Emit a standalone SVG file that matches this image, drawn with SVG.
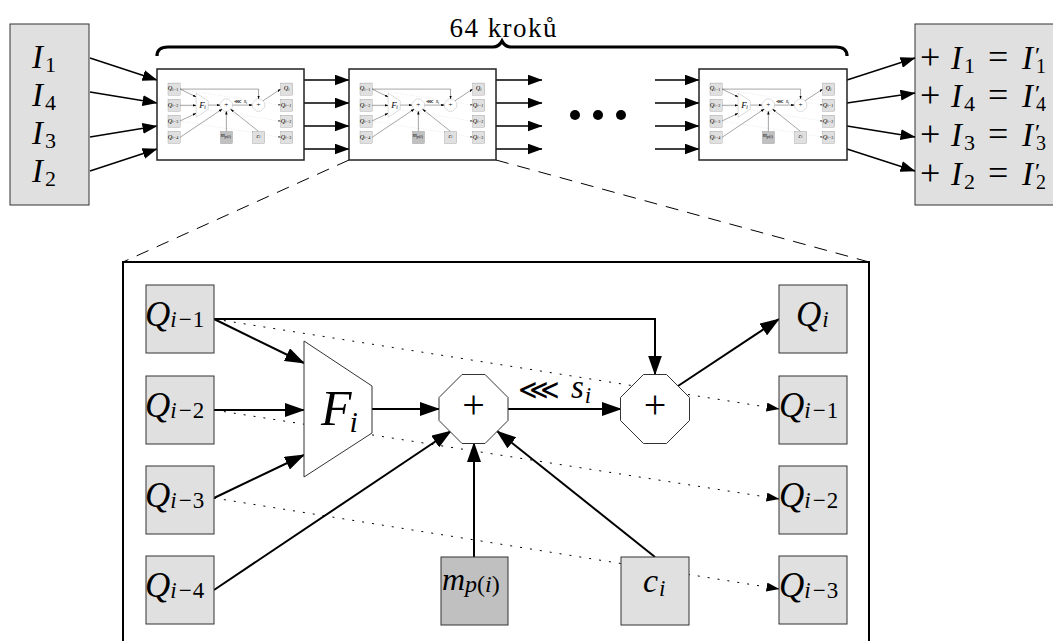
<svg xmlns="http://www.w3.org/2000/svg" width="1053" height="641" viewBox="0 0 1053 641">
<style>
.box{fill:#e0e0e0;stroke:#333;stroke-width:1}
.dark{fill:#c0c0c0}
.wh{fill:#fff;stroke:#333;stroke-width:1}
.blk{fill:#fff;stroke:#222;stroke-width:1.5}
.e{fill:none;stroke:#000;stroke-width:2}
.d{fill:none;stroke:#000;stroke-width:1;stroke-dasharray:2 8}
.te{fill:none;stroke:#000;stroke-width:1.4}
.dash{fill:none;stroke:#000;stroke-width:1;stroke-dasharray:13 9}
.t{font-family:"Liberation Serif","DejaVu Serif",serif;fill:#000}
.it{font-style:italic}
</style>
<defs>
<marker id="ah" markerUnits="userSpaceOnUse" markerWidth="20" markerHeight="14" refX="19" refY="7" orient="auto"><path d="M0,0 L20,7 L0,14 z" fill="#000"/></marker>
<marker id="ahs" markerUnits="userSpaceOnUse" markerWidth="13" markerHeight="9" refX="12.5" refY="4.5" orient="auto"><path d="M0,0 L13,4.5 L0,9 z" fill="#000"/></marker>
<marker id="aht" markerUnits="userSpaceOnUse" markerWidth="15" markerHeight="11" refX="14.5" refY="5.5" orient="auto"><path d="M0,0 L15,5.5 L0,11 z" fill="#000"/></marker>
</defs>

<!-- input box -->
<g id="inputs">
<rect class="box" x="10" y="24" width="79" height="181"/>
<text class="t" font-size="33" x="32" y="68"><tspan class="it">I</tspan><tspan font-size="22" dx="2" dy="4">1</tspan></text>
<text class="t" font-size="33" x="32" y="106"><tspan class="it">I</tspan><tspan font-size="22" dx="2" dy="4">4</tspan></text>
<text class="t" font-size="33" x="32" y="144"><tspan class="it">I</tspan><tspan font-size="22" dx="2" dy="4">3</tspan></text>
<text class="t" font-size="33" x="32" y="182"><tspan class="it">I</tspan><tspan font-size="22" dx="2" dy="4">2</tspan></text>
</g>

<!-- output box -->
<g id="outputs">
<rect class="box" x="915" y="24" width="150" height="181"/>
<text class="t" y="69"><tspan x="920" font-size="36">+</tspan><tspan x="951" font-size="33" class="it">I</tspan><tspan font-size="22" dx="2" dy="4">1</tspan><tspan x="988" font-size="36" dy="-4">=</tspan><tspan x="1022" font-size="33" class="it">I</tspan><tspan font-size="24" dx="2" dy="-6">′</tspan><tspan x="1036" font-size="20" dy="10">1</tspan></text>
<text class="t" y="107"><tspan x="920" font-size="36">+</tspan><tspan x="951" font-size="33" class="it">I</tspan><tspan font-size="22" dx="2" dy="4">4</tspan><tspan x="988" font-size="36" dy="-4">=</tspan><tspan x="1022" font-size="33" class="it">I</tspan><tspan font-size="24" dx="2" dy="-6">′</tspan><tspan x="1036" font-size="20" dy="10">4</tspan></text>
<text class="t" y="146"><tspan x="920" font-size="36">+</tspan><tspan x="951" font-size="33" class="it">I</tspan><tspan font-size="22" dx="2" dy="4">3</tspan><tspan x="988" font-size="36" dy="-4">=</tspan><tspan x="1022" font-size="33" class="it">I</tspan><tspan font-size="24" dx="2" dy="-6">′</tspan><tspan x="1036" font-size="20" dy="10">3</tspan></text>
<text class="t" y="185"><tspan x="920" font-size="36">+</tspan><tspan x="951" font-size="33" class="it">I</tspan><tspan font-size="22" dx="2" dy="4">2</tspan><tspan x="988" font-size="36" dy="-4">=</tspan><tspan x="1022" font-size="33" class="it">I</tspan><tspan font-size="24" dx="2" dy="-6">′</tspan><tspan x="1036" font-size="20" dy="10">2</tspan></text>
</g>

<!-- brace -->
<g id="brace">
<path d="M157,56 Q157,47 168,47 L493,47 Q499,47 502,41 Q505,47 511,47 L836,47 Q847,47 847,56" fill="none" stroke="#000" stroke-width="3.2"/>
<text class="t" font-size="27" x="503" y="37" text-anchor="middle" textLength="107" lengthAdjust="spacing">64 kroků</text>
</g>

<!-- top connectors -->
<g id="top-connectors">
<line class="te" x1="90" y1="58" x2="157" y2="80" marker-end="url(#aht)"/>
<line class="te" x1="90" y1="92" x2="157" y2="103" marker-end="url(#aht)"/>
<line class="te" x1="90" y1="137" x2="157" y2="126" marker-end="url(#aht)"/>
<line class="te" x1="90" y1="171" x2="157" y2="149" marker-end="url(#aht)"/>
<line class="te" x1="304" y1="80" x2="349" y2="80" marker-end="url(#aht)"/>
<line class="te" x1="304" y1="103" x2="349" y2="103" marker-end="url(#aht)"/>
<line class="te" x1="304" y1="126" x2="349" y2="126" marker-end="url(#aht)"/>
<line class="te" x1="304" y1="149" x2="349" y2="149" marker-end="url(#aht)"/>
<line class="te" x1="496" y1="80" x2="542" y2="80" marker-end="url(#aht)"/>
<line class="te" x1="496" y1="103" x2="542" y2="103" marker-end="url(#aht)"/>
<line class="te" x1="496" y1="126" x2="542" y2="126" marker-end="url(#aht)"/>
<line class="te" x1="496" y1="149" x2="542" y2="149" marker-end="url(#aht)"/>
<line class="te" x1="655" y1="80" x2="699" y2="80" marker-end="url(#aht)"/>
<line class="te" x1="655" y1="103" x2="699" y2="103" marker-end="url(#aht)"/>
<line class="te" x1="655" y1="126" x2="699" y2="126" marker-end="url(#aht)"/>
<line class="te" x1="655" y1="149" x2="699" y2="149" marker-end="url(#aht)"/>
<line class="te" x1="847" y1="80" x2="915" y2="58" marker-end="url(#aht)"/>
<line class="te" x1="847" y1="103" x2="915" y2="93" marker-end="url(#aht)"/>
<line class="te" x1="847" y1="126" x2="915" y2="137" marker-end="url(#aht)"/>
<line class="te" x1="847" y1="149" x2="915" y2="171" marker-end="url(#aht)"/>
<line class="dash" x1="349" y1="160" x2="123" y2="262"/>
<line class="dash" x1="496" y1="160" x2="869" y2="262"/>
</g>

<!-- ellipsis -->
<g id="ellipsis">
<circle cx="575" cy="115" r="5"/>
<circle cx="598" cy="115" r="5"/>
<circle cx="621" cy="115" r="5"/>
</g>

<!-- detail frame -->
<g id="detail-frame">
<rect x="123" y="262" width="746" height="400" fill="#fff" stroke="#000" stroke-width="2"/>
</g>

<!-- detail of one step -->
<g id="detail">
<g id="detail-connectors">
<line class="d" x1="214" y1="319" x2="779" y2="409" marker-end="url(#ahs)"/>
<line class="d" x1="214" y1="410" x2="779" y2="499" marker-end="url(#ahs)"/>
<line class="d" x1="214" y1="498" x2="779" y2="589" marker-end="url(#ahs)"/>
<line class="e" x1="214" y1="319" x2="304" y2="363" marker-end="url(#ah)"/>
<line class="e" x1="214" y1="410" x2="304" y2="410" marker-end="url(#ah)"/>
<line class="e" x1="214" y1="498" x2="304" y2="455" marker-end="url(#ah)"/>
<line class="e" x1="214" y1="590" x2="451" y2="431" marker-end="url(#ah)"/>
<polyline class="e" points="214,319 655,319 655,374.5" marker-end="url(#ah)"/>
<line class="e" x1="372" y1="409" x2="439" y2="409" marker-end="url(#ah)"/>
<line class="e" x1="474" y1="557" x2="474" y2="443" marker-end="url(#ah)"/>
<line class="e" x1="655" y1="557" x2="497" y2="431" marker-end="url(#ah)"/>
<line class="e" x1="508" y1="409" x2="621" y2="409" marker-end="url(#ah)"/>
<line class="e" x1="678" y1="386" x2="779" y2="319" marker-end="url(#ah)"/>
<text class="t" font-family="DejaVu Sans, sans-serif" font-weight="200" font-size="28" x="518" y="399" textLength="42" lengthAdjust="spacingAndGlyphs">⋘</text>
<text class="t" font-size="33" x="571" y="398"><tspan class="it">s</tspan><tspan class="it" font-size="23" dx="1" dy="5">i</tspan></text>
</g>
<g id="q1-in"><rect class="box" x="146" y="285" width="68" height="68"/><text class="t" font-size="35" x="145" y="326"><tspan class="it">Q</tspan><tspan font-size="23" dy="1"><tspan class="it">i</tspan><tspan dx="2">−</tspan><tspan dx="1">1</tspan></tspan></text></g>
<g id="q2-in"><rect class="box" x="146" y="376" width="68" height="68"/><text class="t" font-size="35" x="145" y="417"><tspan class="it">Q</tspan><tspan font-size="23" dy="1"><tspan class="it">i</tspan><tspan dx="2">−</tspan><tspan dx="1">2</tspan></tspan></text></g>
<g id="q3-in"><rect class="box" x="146" y="466" width="68" height="68"/><text class="t" font-size="35" x="145" y="507"><tspan class="it">Q</tspan><tspan font-size="23" dy="1"><tspan class="it">i</tspan><tspan dx="2">−</tspan><tspan dx="1">3</tspan></tspan></text></g>
<g id="q4-in"><rect class="box" x="146" y="556" width="68" height="68"/><text class="t" font-size="35" x="145" y="597"><tspan class="it">Q</tspan><tspan font-size="23" dy="1"><tspan class="it">i</tspan><tspan dx="2">−</tspan><tspan dx="1">4</tspan></tspan></text></g>
<g id="f"><polygon class="wh" points="304,341 372,386 372,433 304,477"/><text class="t" font-size="50" x="321" y="425"><tspan class="it">F</tspan><tspan class="it" font-size="30" dx="-2" dy="7">i</tspan></text></g>
<g id="add1"><polygon class="wh" points="462,374.5 485,374.5 508,397.5 508,420.5 485,443.5 462,443.5 439,420.5 439,397.5"/><text class="t" font-size="40" x="473.5" y="418" text-anchor="middle">+</text></g>
<g id="add2"><polygon class="wh" points="643.5,374.5 666.5,374.5 689.5,397.5 689.5,420.5 666.5,443.5 643.5,443.5 620.5,420.5 620.5,397.5"/><text class="t" font-size="40" x="655" y="418" text-anchor="middle">+</text></g>
<g id="m"><rect class="box dark" x="441" y="557" width="67" height="68"/><text class="t" font-size="32" x="442" y="590"><tspan class="it">m</tspan><tspan font-size="24" dy="2"><tspan class="it">p</tspan>(<tspan class="it">i</tspan>)</tspan></text></g>
<g id="c"><rect class="box" x="621" y="557" width="68" height="68"/><text class="t" font-size="34" x="643" y="592"><tspan class="it">c</tspan><tspan class="it" font-size="23" dx="1" dy="4">i</tspan></text></g>
<g id="q0-out"><rect class="box" x="779" y="285" width="68" height="68"/><text class="t" font-size="35" x="796" y="326"><tspan class="it">Q</tspan><tspan class="it" font-size="23" dx="1" dy="1">i</tspan></text></g>
<g id="q1-out"><rect class="box" x="779" y="376" width="68" height="68"/><text class="t" font-size="35" x="779" y="417"><tspan class="it">Q</tspan><tspan font-size="23" dy="1"><tspan class="it">i</tspan><tspan dx="2">−</tspan><tspan dx="1">1</tspan></tspan></text></g>
<g id="q2-out"><rect class="box" x="779" y="466" width="68" height="68"/><text class="t" font-size="35" x="779" y="507"><tspan class="it">Q</tspan><tspan font-size="23" dy="1"><tspan class="it">i</tspan><tspan dx="2">−</tspan><tspan dx="1">2</tspan></tspan></text></g>
<g id="q3-out"><rect class="box" x="779" y="556" width="68" height="68"/><text class="t" font-size="35" x="779" y="597"><tspan class="it">Q</tspan><tspan font-size="23" dy="1"><tspan class="it">i</tspan><tspan dx="2">−</tspan><tspan dx="1">3</tspan></tspan></text></g>
</g>

<!-- step blocks -->
<g id="step1"><rect class="blk" x="157" y="69" width="147" height="91"/><use href="#detail" transform="translate(142,32.3) scale(0.178)"/></g>
<g id="step2"><rect class="blk" x="349" y="69" width="147" height="91"/><use href="#detail" transform="translate(334,32.3) scale(0.178)"/></g>
<g id="step64"><rect class="blk" x="699" y="69" width="148" height="91"/><use href="#detail" transform="translate(684,32.3) scale(0.178)"/></g>
</svg>
